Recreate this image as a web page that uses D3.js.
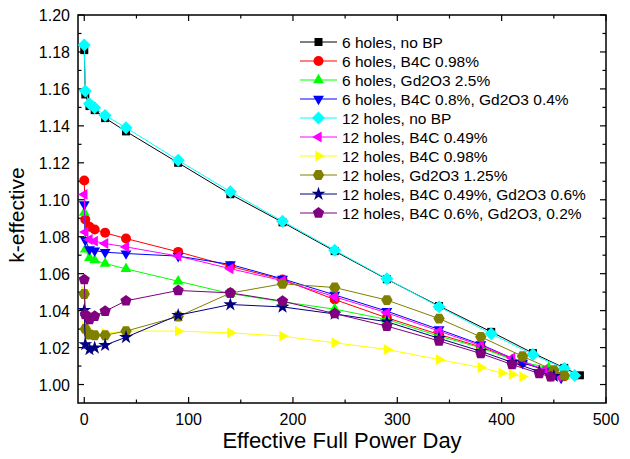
<!DOCTYPE html>
<html>
<head>
<meta charset="utf-8">
<script src="https://cdnjs.cloudflare.com/ajax/libs/d3/7.8.5/d3.min.js"></script>
<style>
  body { margin: 0; background: #fff; }
  svg text { font-family: Arial, "Liberation Sans", sans-serif; }
</style>
</head>
<body>
<div id="chart"></div>
<script>
// burnup steps (EFPD) and k-effective, one pair of arrays per case
const noBP6X = [0, 1, 5, 10, 20, 40, 90, 140, 190, 240, 290, 340, 390, 430, 460, 475];
const noBP6K = [1.181, 1.157, 1.1507, 1.1485, 1.1442, 1.137, 1.120, 1.103, 1.0878, 1.0722, 1.0570, 1.0425, 1.0285, 1.0170, 1.0090, 1.0050];

const b4c6X = [0, 1, 5, 10, 20, 40, 90, 140, 190, 240, 290, 340, 380, 420, 445, 460];
const b4c6K = [1.1104, 1.0893, 1.0854, 1.0839, 1.0821, 1.079, 1.0718, 1.064, 1.0568, 1.046, 1.0361, 1.0271, 1.0204, 1.0119, 1.0072, 1.0045];

const gd6X = [0, 1, 5, 10, 20, 40, 90, 140, 190, 240, 290, 340, 380, 410, 445, 460];
const gd6K = [1.093, 1.0731, 1.0686, 1.0673, 1.0655, 1.0626, 1.0559, 1.0492, 1.0448, 1.0408, 1.0352, 1.0262, 1.0199, 1.0135, 1.009, 1.0045];

const mix6X = [0, 1, 5, 10, 20, 40, 90, 140, 190, 240, 290, 340, 380, 420, 445, 457];
const mix6K = [1.0975, 1.0781, 1.0731, 1.0725, 1.0716, 1.0709, 1.0695, 1.065, 1.0572, 1.0485, 1.0397, 1.0298, 1.0217, 1.0117, 1.0075, 1.0035];

const noBP12X = [0, 1, 5, 10, 20, 40, 90, 140, 190, 240, 290, 340, 390, 430, 460, 470];
const noBP12K = [1.1837, 1.1588, 1.152, 1.1498, 1.1456, 1.139, 1.1214, 1.1043, 1.0884, 1.0727, 1.0572, 1.0421, 1.0275, 1.0162, 1.0087, 1.0049];

const b4c049X = [0, 1, 5, 10, 20, 40, 90, 140, 190, 240, 290, 340, 380, 410, 441, 454];
const b4c049K = [1.1029, 1.0825, 1.0785, 1.0776, 1.0763, 1.0745, 1.0695, 1.0627, 1.0562, 1.0475, 1.0388, 1.0289, 1.0211, 1.0144, 1.0081, 1.0045];

const b4c098X = [0, 1, 5, 10, 20, 40, 90, 140, 190, 240, 290, 340, 380, 400, 410, 420];
const b4c098K = [1.0505, 1.031, 1.028, 1.027, 1.0276, 1.0289, 1.0289, 1.028, 1.0262, 1.0226, 1.019, 1.0135, 1.0092, 1.0063, 1.0054, 1.0042];

const gd12X = [0, 1, 5, 10, 20, 40, 90, 140, 190, 240, 290, 340, 380, 420, 450, 460];
const gd12K = [1.0490, 1.0301, 1.0271, 1.0267, 1.0267, 1.0289, 1.0368, 1.0495, 1.0545, 1.0525, 1.0457, 1.0357, 1.0258, 1.0153, 1.0077, 1.0049];

const mixA12X = [0, 1, 5, 10, 20, 40, 90, 140, 190, 240, 290, 340, 380, 410, 436, 450];
const mixA12K = [1.0402, 1.0217, 1.019, 1.0199, 1.0213, 1.0256, 1.0375, 1.0433, 1.042, 1.0382, 1.034, 1.025, 1.018, 1.012, 1.007, 1.0045];

const mixB12X = [0, 1, 5, 10, 20, 40, 90, 140, 190, 240, 290, 340, 380, 410, 436, 447];
const mixB12K = [1.0568, 1.0379, 1.0352, 1.037, 1.0397, 1.0453, 1.0509, 1.0496, 1.0451, 1.0384, 1.0316, 1.0236, 1.0168, 1.0108, 1.006, 1.0042];

const labels = [
  "6 holes, no BP", "6 holes, B4C 0.98%", "6 holes, Gd2O3 2.5%", "6 holes, B4C 0.8%, Gd2O3 0.4%",
  "12 holes, no BP", "12 holes, B4C 0.49%", "12 holes, B4C 0.98%", "12 holes, Gd2O3 1.25%",
  "12 holes, B4C 0.49%, Gd2O3 0.6%", "12 holes, B4C 0.6%, Gd2O3, 0.2%"
];
const xTicks = [0, 100, 200, 300, 400, 500];
const yTicks = [1.00, 1.02, 1.04, 1.06, 1.08, 1.10, 1.12, 1.14, 1.16, 1.18, 1.20];

const colors = ["#000000", "#ff0000", "#00ff00", "#0000ff", "#00ffff", "#ff00ff", "#ffff00", "#808000", "#000080", "#800080"];
const shapes = ["square", "circle", "up", "down", "diamond", "left", "right", "hexagon", "star", "pentagon"];

const series = [
  [noBP6X, noBP6K], [b4c6X, b4c6K], [gd6X, gd6K], [mix6X, mix6K],
  [noBP12X, noBP12K], [b4c049X, b4c049K], [b4c098X, b4c098K], [gd12X, gd12K],
  [mixA12X, mixA12K], [mixB12X, mixB12K]
].map((s, i) => ({
  name: labels[i], color: colors[i], shape: shapes[i],
  points: s[0].map((x, j) => ({ x: x, k: s[1][j] }))
}));

const width = 630, height = 459;
const margin = { left: 78, right: 24, top: 15, bottom: 56 };

const svg = d3.select("#chart").append("svg")
  .attr("width", width)
  .attr("height", height);

const x = d3.scaleLinear().domain([-6, 500]).range([margin.left, width - margin.right]);
const y = d3.scaleLinear().domain([0.99, 1.20]).range([height - margin.bottom, margin.top]);

// regular polygon path centred at 0,0
function polygon(n, r, rot) {
  const pts = d3.range(n).map(i => {
    const a = rot + i * 2 * Math.PI / n;
    return [r * Math.cos(a), r * Math.sin(a)];
  });
  return "M" + pts.map(p => p.join(",")).join("L") + "Z";
}

function markerPath(shape) {
  switch (shape) {
    case "square": return d3.symbol(d3.symbolSquare, 64)();
    case "circle": return d3.symbol(d3.symbolCircle, 78)();
    case "up": return polygon(3, 6.3, -Math.PI / 2);
    case "down": return polygon(3, 6.3, Math.PI / 2);
    case "left": return polygon(3, 6.3, Math.PI);
    case "right": return polygon(3, 6.3, 0);
    case "diamond": return polygon(4, 6.5, -Math.PI / 2);
    case "hexagon": return polygon(6, 5.7, 0);
    case "pentagon": return polygon(5, 5.9, -Math.PI / 2);
    case "star": return d3.symbol(d3.symbolStar, 60)();
  }
}

// ticks, inward on all four sides
const axisG = svg.append("g");
const xMinor = d3.range(0, 501, 50);
const yMinor = d3.range(0, 21).map(i => 1.00 + i * 0.01);
const x0 = x.range()[0], x1 = x.range()[1], y0 = y.range()[0], y1 = y.range()[1];

xMinor.forEach(v => {
  const len = v % 100 === 0 ? 6 : 3.5;
  axisG.append("line").attr("x1", x(v)).attr("x2", x(v)).attr("y1", y0).attr("y2", y0 - len);
  axisG.append("line").attr("x1", x(v)).attr("x2", x(v)).attr("y1", y1).attr("y2", y1 + len);
});
yMinor.forEach((v, i) => {
  const len = i % 2 === 0 ? 6 : 3.5;
  axisG.append("line").attr("y1", y(v)).attr("y2", y(v)).attr("x1", x0).attr("x2", x0 + len);
  axisG.append("line").attr("y1", y(v)).attr("y2", y(v)).attr("x1", x1).attr("x2", x1 - len);
});
axisG.selectAll("line").attr("stroke", "#000").attr("stroke-width", 1.2);

axisG.append("rect")
  .attr("x", x0).attr("y", y1)
  .attr("width", x1 - x0).attr("height", y0 - y1)
  .attr("fill", "none").attr("stroke", "#000").attr("stroke-width", 1.5);

svg.append("g").selectAll("text")
  .data(xTicks).enter().append("text")
  .attr("x", d => x(d)).attr("y", y0 + 22)
  .attr("text-anchor", "middle")
  .style("font-size", "16px")
  .text(d => d);

svg.append("g").selectAll("text")
  .data(yTicks).enter().append("text")
  .attr("x", x0 - 8).attr("y", d => y(d) + 6)
  .attr("text-anchor", "end")
  .style("font-size", "16px")
  .text(d => d.toFixed(2));

svg.append("text")
  .attr("x", (x0 + x1) / 2).attr("y", 448)
  .attr("text-anchor", "middle")
  .style("font-size", "22px")
  .text("Effective Full Power Day");

svg.append("text")
  .attr("transform", `translate(24,${(y0 + y1) / 2 + 6}) rotate(-90)`)
  .attr("text-anchor", "middle")
  .style("font-size", "21px")
  .text("k-effective");

// series, in drawing order
const line = d3.line().x(d => x(d.x)).y(d => y(d.k));
const plot = svg.append("g");

series.forEach(s => {
  const g = plot.append("g");
  g.append("path")
    .attr("d", line(s.points))
    .attr("fill", "none")
    .attr("stroke", s.color)
    .attr("stroke-width", 1);
  g.selectAll("path.m")
    .data(s.points).enter().append("path")
    .attr("class", "m")
    .attr("d", markerPath(s.shape))
    .attr("transform", d => `translate(${x(d.x)},${y(d.k)})`)
    .attr("fill", s.color);
});

// legend
const legend = svg.append("g").attr("transform", "translate(300,42)");
series.forEach((s, i) => {
  const g = legend.append("g").attr("transform", `translate(0,${i * 19})`);
  g.append("line").attr("x1", 0).attr("x2", 37).attr("y1", 0).attr("y2", 0)
    .attr("stroke", s.color).attr("stroke-width", 1);
  g.append("path").attr("d", markerPath(s.shape))
    .attr("transform", "translate(18.5,0)")
    .attr("fill", s.color);
  g.append("text").attr("x", 42).attr("y", 5.5)
    .style("font-size", "15.5px")
    .text(s.name);
});
</script>
</body>
</html>
